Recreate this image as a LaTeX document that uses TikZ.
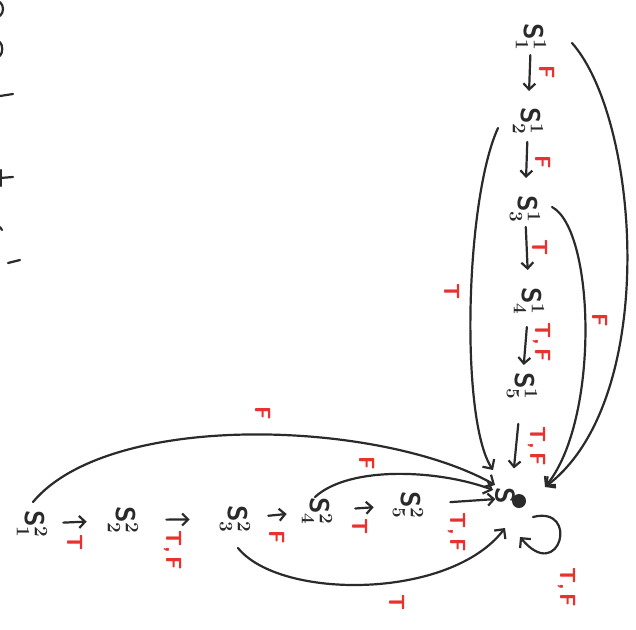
\RequirePackage{fix-cm}
\documentclass[tikz,border=0pt]{standalone}
\usetikzlibrary{arrows.meta,calc}
\definecolor{ink}{HTML}{2A2A2A}
\definecolor{pen}{HTML}{E8322E}
\tikzset{
  st/.style={rotate=-90, inner sep=0pt, minimum size=24pt, text=ink, font=\fontsize{27}{30}\selectfont\boldmath},
  lab/.style={rotate=-90, inner sep=0pt, text=pen, font=\fontsize{22}{24}\selectfont\sffamily\bfseries},
  arr/.style={draw=ink, line width=2.2pt, line cap=round, -{Straight Barb[length=6pt,width=12pt]}},
  crv/.style={draw=ink, line width=2.2pt, line cap=round, -{Straight Barb[length=7pt,width=14pt]}},
  frag/.style={draw=ink, line width=2.2pt, line cap=round},
}
\begin{document}
\begin{tikzpicture}[x=1pt,y=-1pt]
\useasboundingbox (0,0) rectangle (636,629);

% chain 1
\node[st] (s11) at (531,37) {$\mathsf{S}^1_1$};
\node[st] (s12) at (528,121) {$\mathsf{S}^1_2$};
\node[st] (s13) at (525,209) {$\mathsf{S}^1_3$};
\node[st] (s14) at (529,301) {$\mathsf{S}^1_4$};
\node[st] (s15) at (522,386) {$\mathsf{S}^1_5$};
% chain 2
\node[st] (s21) at (32,524) {$\mathsf{S}^2_1$};
\node[st] (s22) at (123,520) {$\mathsf{S}^2_2$};
\node[st] (s23) at (235,519) {$\mathsf{S}^2_3$};
\node[st] (s24) at (317,511) {$\mathsf{S}^2_4$};
\node[st] (s25) at (408,505) {$\mathsf{S}^2_5$};
% sink
\node[circle, inner sep=0pt, minimum size=1pt] (sink) at (511,498) {};
\node[st, minimum size=0pt] (sinkS) at (505,496) {$\mathsf{S}$};
\node[circle, fill=ink, inner sep=0pt, minimum size=14pt] (sinkdot) at (519,501) {};

% chain 1 arrows
\draw[arr, shorten <=4pt, shorten >=16pt] (s11) -- (s12);
\draw[arr, shorten <=7pt, shorten >=17pt] (s12) -- (s13);
\draw[arr, shorten <=4pt, shorten >=17pt] (s13) -- (s14);
\draw[arr, shorten <=12pt, shorten >=7pt] (s14) -- (s15);
\draw[arr, shorten <=24pt, shorten >=29pt] (s15) -- (sink);
% chain 2 arrows
\draw[arr, shorten <=16pt, shorten >=21pt] (s21) -- (s22);
\draw[arr, shorten <=28pt, shorten >=30pt] (s22) -- (s23);
\draw[arr, shorten <=18pt, shorten >=15pt] (s23) -- (s24);
\draw[arr, shorten <=23pt, shorten >=19pt] (s24) -- (s25);
\draw[arr, shorten <=27pt, shorten >=15pt] (s25) -- (sink);

% curved edges
\draw[crv] ($(s11)+(41,6)$) .. controls (640,120) and (660,400) .. ($(sink)+(34,-11)$);
\draw[crv] ($(s12)+(-30,7)$) .. controls (465,200) and (460,420) .. ($(sink)+(-18,-28)$);
\draw[crv] ($(s13)+(27,-2)$) .. controls (595,230) and (600,420) .. ($(sink)+(34,-11)$);
\draw[crv] ($(s21)+(1,-22)$) .. controls (110,410) and (380,420) .. ($(sink)+(-16,-13)$);
\draw[crv] ($(s24)+(-2,-14)$) .. controls (350,465) and (440,470) .. ($(sink)+(-18,-8)$);
\draw[crv] ($(s23)+(3,29)$) .. controls (280,600) and (450,600) .. ($(sink)+(-6,30)$);
\draw[crv] ($(sink)+(22,19)$) .. controls (580,505) and (560,585) .. ($(sink)+(9,39)$);

% labels
\node[lab] (l1) at (547,72) {F};
\node[lab] (l2) at (543,162) {F};
\node[lab] (l3) at (540,248) {T};
\node[lab] (l4) at (542,342) {T,\,F};
\node[lab] (l5) at (537,446) {T,\,F};
\node[lab] (l6) at (452,292) {T};
\node[lab] (l7) at (600,320) {F};
\node[lab] (l8) at (75,543) {T};
\node[lab] (l9) at (173,550) {T,\,F};
\node[lab] (l10) at (277,537) {F};
\node[lab] (l11) at (360,527) {T};
\node[lab] (l12) at (457,532) {T,\,F};
\node[lab] (l13) at (263,413) {F};
\node[lab] (l14) at (367,463) {F};
\node[lab] (l15) at (397,603) {T};
\node[lab] (l16) at (567,587) {T,\,F};

% cut-off marks at the left edge
\draw[frag] (0,2) .. controls (4,6) and (4,12) .. (0,16);
\draw[frag] (0,42) .. controls (3,46) and (3,52) .. (0,56);
\draw[frag] (0,96) -- (13,94);
\draw[frag] (0,178) -- (13,177);
\draw[frag] (1,170) -- (1,186);
\draw[frag] (0,227) -- (2,230);
\draw[frag] (8,263) -- (20,260);
\end{tikzpicture}
\end{document}
